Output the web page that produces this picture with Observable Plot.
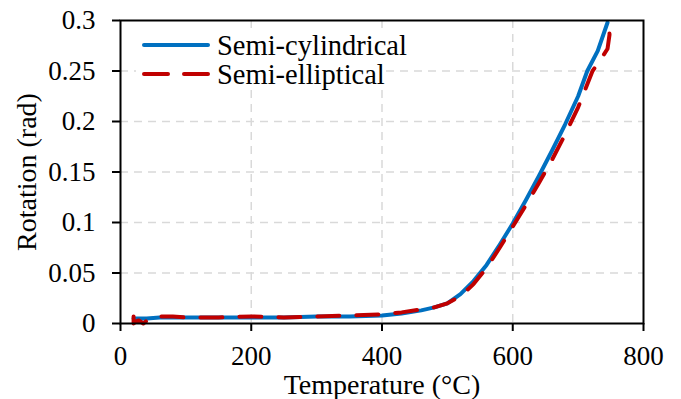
<!DOCTYPE html>
<html>
<head>
<meta charset="utf-8">
<script src="https://cdn.jsdelivr.net/npm/d3@7"></script>
<script src="https://cdn.jsdelivr.net/npm/@observablehq/plot@0.6"></script>
<style>
  html, body { margin: 0; padding: 0; background: white; }
  #chart { width: 681px; height: 399px; position: relative; }
  #chart svg text { font-family: "Liberation Serif", "Times New Roman", serif; }
</style>
</head>
<body>
<div id="chart"></div>
<script>
// ---- data ----
const seriesNames = ["Semi-cylindrical", "Semi-elliptical"];
const cylT = [20, 40, 60, 80, 100, 150, 200, 250, 300, 350, 400, 430, 460, 480, 500, 520, 540, 560, 580, 600, 620, 640, 660, 680, 700, 714, 730, 745];
const cylR = [0.005, 0.005, 0.006, 0.006, 0.006, 0.006, 0.006, 0.006, 0.007, 0.007, 0.008, 0.010, 0.013, 0.016, 0.020, 0.029, 0.042, 0.058, 0.078, 0.099, 0.122, 0.146, 0.171, 0.197, 0.225, 0.250, 0.270, 0.298];
const ellT = [20, 20, 24, 28, 35, 46, 60, 80, 100, 150, 200, 250, 300, 350, 400, 430, 460, 480, 500, 520, 540, 560, 580, 600, 620, 640, 660, 680, 700, 722, 735, 745, 748, 747];
const ellR = [0.007, 0.000, 0.002, 0.003, 0.000, 0.006, 0.007, 0.007, 0.006, 0.006, 0.007, 0.006, 0.007, 0.008, 0.009, 0.011, 0.014, 0.016, 0.020, 0.027, 0.039, 0.055, 0.075, 0.096, 0.117, 0.139, 0.162, 0.187, 0.214, 0.250, 0.262, 0.272, 0.286, 0.300];
const xTicks = [0, 200, 400, 600, 800];
const yTicks = [0, 0.05, 0.1, 0.15, 0.2, 0.25, 0.3];
const xGrid = [200, 400, 600];
const yGrid = [0.05, 0.1, 0.15, 0.2, 0.25];
const colors = ["#0070C0", "#C00000"];

const cyl = cylT.map((t, i) => ({T: t, R: cylR[i]}));
const ell = ellT.map((t, i) => ({T: t, R: ellR[i]}));

const serif = "'Liberation Serif', 'Times New Roman', serif";

const plot = Plot.plot({
  width: 681,
  height: 399,
  marginLeft: 120,
  marginRight: 38,
  marginTop: 20,
  marginBottom: 76,
  style: {fontFamily: serif, fontSize: "27px", color: "black", background: "white"},
  x: {domain: [0, 800]},
  y: {domain: [0, 0.3]},
  marks: [
    Plot.gridX(xGrid, {stroke: "#d9d9d9", strokeOpacity: 1, strokeWidth: 1.5, strokeDasharray: "8,6"}),
    Plot.gridY(yGrid, {stroke: "#d9d9d9", strokeOpacity: 1, strokeWidth: 1.5, strokeDasharray: "8,6"}),
    Plot.axisX(xTicks, {tickSize: 8, tickPadding: 14, strokeWidth: 2, fontFamily: serif, label: null}),
    Plot.axisX({label: "Temperature (°C)", labelAnchor: "center", labelArrow: "none", labelOffset: 70, ticks: [], tickSize: 0, fontSize: 28, fontFamily: serif}),
    Plot.axisY(yTicks, {tickSize: 8, tickPadding: 17, strokeWidth: 2, fontFamily: serif, tickFormat: d => String(+d.toFixed(2)), label: null}),
    Plot.axisY({label: "Rotation (rad)", labelAnchor: "center", labelArrow: "none", labelOffset: 104, ticks: [], tickSize: 0, fontSize: 28, fontFamily: serif}),
    Plot.line(cyl, {x: "T", y: "R", stroke: colors[0], strokeWidth: 4}),
    Plot.line(ell, {x: "T", y: "R", stroke: colors[1], strokeWidth: 4, strokeDasharray: "22,17", strokeLinecap: "round"}),
    Plot.frame({stroke: "black", strokeWidth: 2})
  ]
});
document.getElementById("chart").appendChild(plot);

// ---- legend inside the plot area ----
const svg = d3.select(plot);
const lg = svg.append("g");
lg.append("rect").attr("x", 136).attr("y", 30).attr("width", 248).attr("height", 60).attr("fill", "white");
seriesNames.forEach((name, i) => {
  const yy = 45 + i * 29;
  const ln = lg.append("line").attr("x1", 144).attr("x2", 208).attr("y1", yy).attr("y2", yy)
    .attr("stroke", colors[i]).attr("stroke-width", 4).attr("stroke-linecap", "round");
  if (i) ln.attr("stroke-dasharray", "24,16");
  lg.append("text").attr("x", 217).attr("y", yy + 10).attr("text-anchor", "start")
    .attr("font-size", "28.5px").attr("fill", "black").text(name);
});
// bring frame back on top of legend
svg.node().appendChild(svg.select("[aria-label=frame]").node());
</script>
</body>
</html>
